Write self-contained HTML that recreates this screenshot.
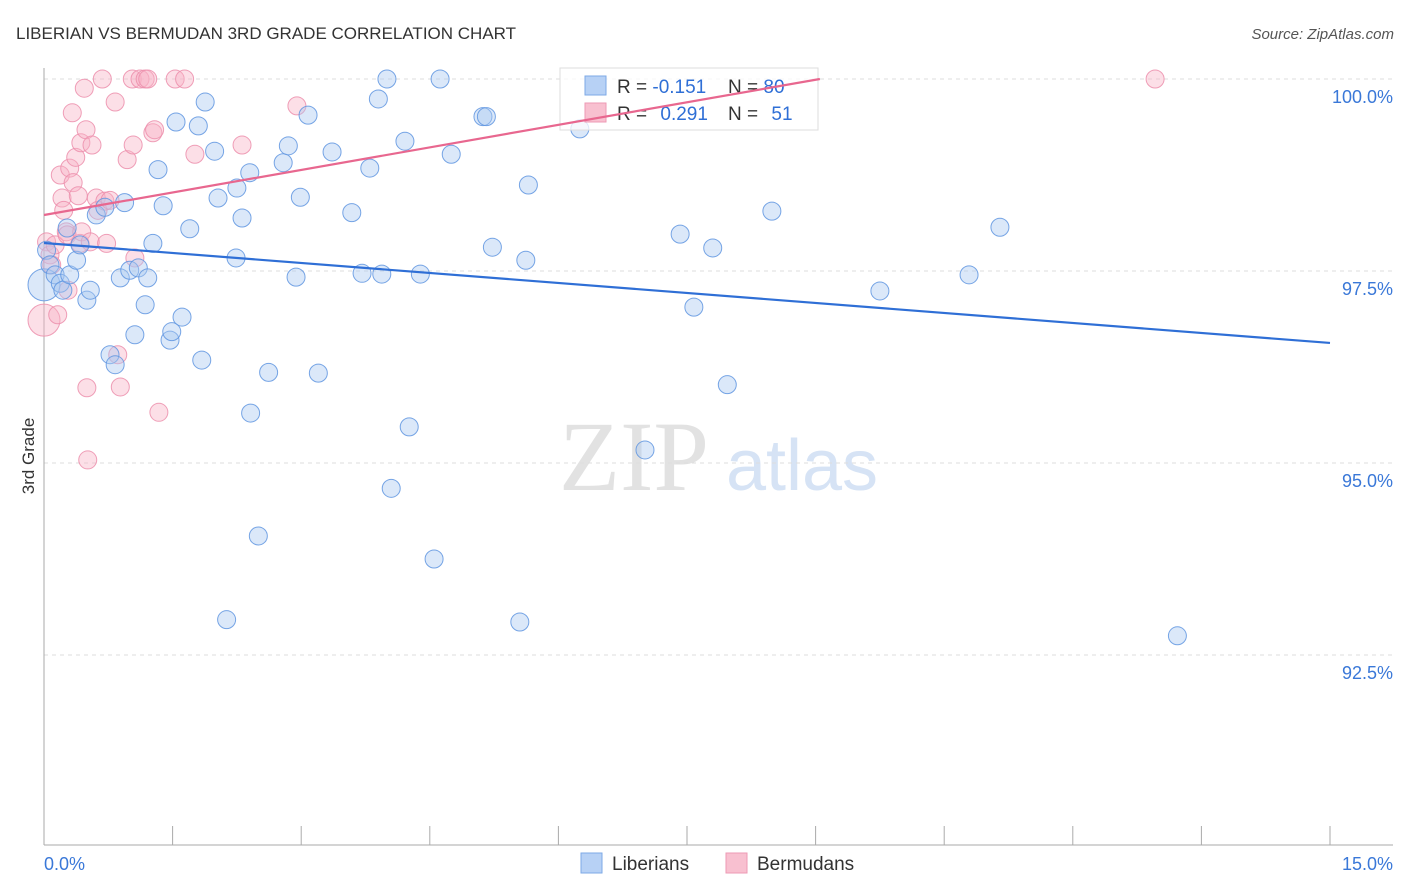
<!DOCTYPE html>
<html><head><meta charset="utf-8"><style>
body{margin:0;background:#fff;font-family:"Liberation Sans",sans-serif;}
svg{display:block}
</style></head><body>
<svg id="chart" width="1406" height="892" font-family="Liberation Sans, sans-serif">
<text x="16" y="39" font-size="17" fill="#333">LIBERIAN VS BERMUDAN 3RD GRADE CORRELATION CHART</text>
<text x="1394" y="39" font-size="15" fill="#555" font-style="italic" text-anchor="end">Source: ZipAtlas.com</text>
<text x="0" y="0" transform="translate(34,456) rotate(-90)" font-size="17" fill="#333" text-anchor="middle">3rd Grade</text>
<g>
<text x="634" y="490" font-size="100" fill="#e2e2e2" text-anchor="middle" font-family="Liberation Serif, serif">ZIP</text>
<text x="802" y="490" font-size="72" fill="#d6e3f5" text-anchor="middle">atlas</text>
</g>
<g id="grid"></g><g id="axes"></g><g id="pts"></g>
<g>
<rect x="560" y="68" width="258" height="62" fill="#fff" fill-opacity="0.75" stroke="#ddd"/>
<rect x="585" y="76" width="21" height="19" fill="#b7d1f5" stroke="#7ea9e6"/>
<rect x="585" y="103" width="21" height="19" fill="#f8c0d0" stroke="#ee9ab4"/>
<text x="617" y="93" font-size="19" fill="#333">R = <tspan fill="#2f6fd6">-0.151</tspan></text>
<text x="728" y="93" font-size="19" fill="#333">N = <tspan fill="#2f6fd6">80</tspan></text>
<text x="617" y="120" font-size="19" fill="#333">R = <tspan fill="#2f6fd6" dx="8">0.291</tspan></text>
<text x="728" y="120" font-size="19" fill="#333">N = <tspan fill="#2f6fd6" dx="8">51</tspan></text>
</g>
<g id="trends"></g>
<g>
<rect x="581" y="853" width="21" height="20" fill="#b7d1f5" stroke="#7ea9e6"/>
<text x="612" y="870" font-size="19" fill="#333">Liberians</text>
<rect x="726" y="853" width="21" height="20" fill="#f8c0d0" stroke="#ee9ab4"/>
<text x="757" y="870" font-size="19" fill="#333">Bermudans</text>
</g>
</svg>
<script>
const yTicks=[100,97.5,95,92.5];
const yTickLabels=["100.0%","97.5%","95.0%","92.5%"];
const xTickCount=10;
const xLabels=["0.0%","15.0%"];
const libX=[0.00,0.03,0.07,0.13,0.19,0.22,0.27,0.30,0.38,0.42,0.50,0.54,0.61,0.71,0.77,0.83,0.89,0.94,1.00,1.06,1.10,1.18,1.21,1.27,1.33,1.39,1.47,1.49,1.54,1.61,1.70,1.80,1.84,1.88,1.99,2.03,2.13,2.24,2.25,2.31,2.40,2.41,2.50,2.62,2.79,2.85,2.94,2.99,3.08,3.20,3.36,3.59,3.71,3.80,3.90,3.94,4.00,4.05,4.21,4.26,4.39,4.55,4.62,4.75,5.12,5.16,5.23,5.55,5.62,5.65,6.25,7.01,7.42,7.58,7.80,7.97,8.49,9.75,10.79,11.15,13.22];
const libY=[97.32,97.77,97.58,97.45,97.34,97.25,98.06,97.45,97.64,97.84,97.12,97.25,98.23,98.33,96.41,96.28,97.41,98.39,97.51,96.67,97.54,97.06,97.41,97.86,98.82,98.35,96.60,96.71,99.44,96.90,98.05,99.39,96.34,99.70,99.06,98.45,92.96,97.67,98.58,98.19,98.78,95.65,94.05,96.18,98.91,99.13,97.42,98.46,99.53,96.17,99.05,98.26,97.47,98.84,99.74,97.46,100.0,94.67,99.19,95.47,97.46,93.75,100.0,99.02,99.51,99.51,97.81,92.93,97.64,98.62,99.35,95.17,97.98,97.03,97.80,96.02,98.28,97.24,97.45,98.07,92.75];
const berX=[0.00,0.03,0.07,0.09,0.13,0.16,0.19,0.21,0.23,0.26,0.27,0.28,0.30,0.33,0.34,0.37,0.40,0.42,0.43,0.44,0.47,0.49,0.50,0.51,0.54,0.56,0.61,0.63,0.68,0.71,0.73,0.77,0.83,0.86,0.89,0.97,1.03,1.04,1.06,1.12,1.18,1.21,1.27,1.29,1.34,1.53,1.64,1.76,2.31,2.95,12.96];
const berY=[96.86,97.88,97.71,97.58,97.84,96.93,98.75,98.45,98.29,98.01,97.97,97.25,98.84,99.56,98.65,98.98,98.48,97.86,99.17,98.01,99.88,99.34,95.98,95.04,97.88,99.14,98.45,98.29,100,98.41,97.86,98.42,99.70,96.41,95.99,98.95,100,99.14,97.67,100,100,100,99.30,99.34,95.66,100,100,99.02,99.14,99.65,100];
const libTrend=[97.865,96.563];
const berTrend=[98.229,100];
const berTrendEndX=9.05;
const NS="http://www.w3.org/2000/svg";
const X0=44,X1=1330,Y100=79,PXPER=76.8;
const sx=v=>X0+(X1-X0)*v/15;
const sy=v=>Y100+(100-v)*PXPER;
function mk(tag,attrs,parent){const e=document.createElementNS(NS,tag);for(const k in attrs)e.setAttribute(k,attrs[k]);parent.appendChild(e);return e;}
const grid=document.getElementById('grid'),axes=document.getElementById('axes'),pts=document.getElementById('pts'),tr=document.getElementById('trends');
yTicks.forEach((t,i)=>{
 const l=mk('line',{x1:44,x2:1393,y1:sy(t),y2:sy(t),stroke:'#ddd','stroke-dasharray':'4,4'},grid);
 
 
 const tx=mk('text',{x:1393,y:sy(t)+24,'font-size':18,fill:'#3a78d8','text-anchor':'end'},axes);
 tx.textContent=yTickLabels[i];
 
 
});
const ya=mk('line',{x1:44,x2:44,y1:68,y2:845,stroke:'#aaa'},axes);


const xa=mk('line',{x1:44,x2:1393,y1:845,y2:845,stroke:'#aaa'},axes);


for(let i=0;i<=xTickCount;i++){
 const v=15*i/xTickCount;
 const t=mk('line',{x1:sx(v),x2:sx(v),y1:826,y2:845,stroke:'#aaa'},axes);
 
 
}
const xl0=mk('text',{x:44,y:870,'font-size':18,fill:'#3a78d8'},axes);xl0.textContent=xLabels[0];


const xl1=mk('text',{x:1393,y:870,'font-size':18,fill:'#3a78d8','text-anchor':'end'},axes);xl1.textContent=xLabels[1];


function dots(xs,ys,fill,stroke,name){
 xs.forEach((x,i)=>{
  const r=(i===0)?16:9;
  const c=mk('circle',{cx:sx(x),cy:sy(ys[i]),r:r,fill:fill,'fill-opacity':0.42,stroke:stroke,'stroke-opacity':0.85,'stroke-width':1},pts);
  
  
 });
}
dots(berX,berY,'#f7b3c6','#ec8eac','bermudan-point');
dots(libX,libY,'#a9c8f1','#5f95e0','liberian-point');
const lt=mk('line',{x1:sx(0),y1:sy(libTrend[0]),x2:sx(15),y2:sy(libTrend[1]),stroke:'#2f6fd6','stroke-width':2.2},tr);


const bt=mk('line',{x1:sx(0),y1:sy(berTrend[0]),x2:sx(berTrendEndX),y2:sy(berTrend[1]),stroke:'#e8678f','stroke-width':2.2},tr);


</script>
</body></html>
